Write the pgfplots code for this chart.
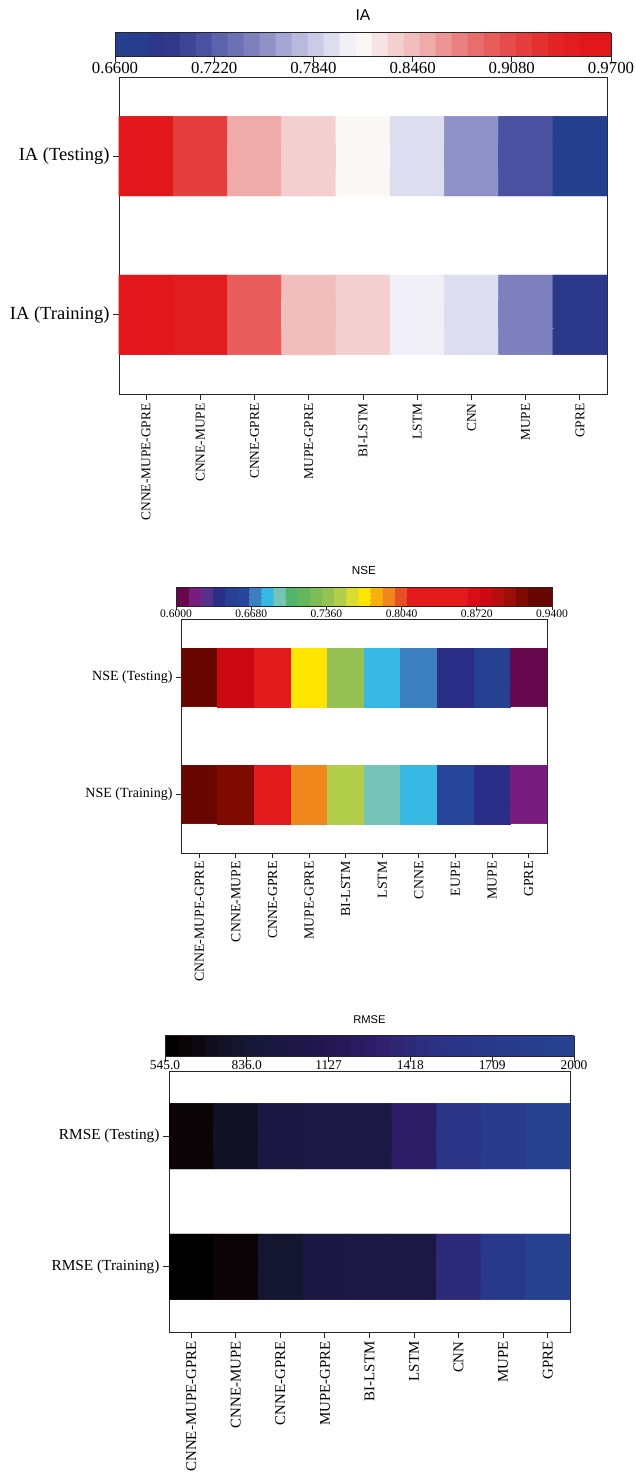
\documentclass[border=0pt]{standalone}
\usepackage{fontspec}
\setmainfont{Liberation Serif}
\setsansfont{Liberation Sans}
\usepackage{pgfplots}
\pgfplotsset{compat=1.18}
\pgfplotsset{
colormap={ia}{rgb255=(36,64,143) rgb255=(39,61,142) rgb255=(44,57,139) rgb255=(50,57,139) rgb255=(61,69,149) rgb255=(74,81,160) rgb255=(92,98,171) rgb255=(108,112,180) rgb255=(126,128,189) rgb255=(144,146,199) rgb255=(165,166,211) rgb255=(184,185,221) rgb255=(203,203,231) rgb255=(221,221,240) rgb255=(240,240,246) rgb255=(250,247,246) rgb255=(246,227,227) rgb255=(244,207,207) rgb255=(242,189,189) rgb255=(239,170,170) rgb255=(237,149,149) rgb255=(235,128,128) rgb255=(233,109,109) rgb255=(232,92,92) rgb255=(230,76,76) rgb255=(229,62,62) rgb255=(227,48,48) rgb255=(227,36,36) rgb255=(226,29,34) rgb255=(226,23,28) rgb255=(226,23,28)},
colormap={nse}{rgb255=(103,7,78) rgb255=(120,28,125) rgb255=(87,48,138) rgb255=(43,46,134) rgb255=(39,64,146) rgb255=(39,69,154) rgb255=(60,127,193) rgb255=(54,184,227) rgb255=(118,195,184) rgb255=(83,180,107) rgb255=(100,183,92) rgb255=(125,188,87) rgb255=(150,194,83) rgb255=(179,206,74) rgb255=(219,220,48) rgb255=(254,229,0) rgb255=(247,177,12) rgb255=(239,135,29) rgb255=(229,81,37) rgb255=(227,26,28) rgb255=(227,26,28) rgb255=(227,26,28) rgb255=(227,26,28) rgb255=(227,26,28) rgb255=(216,14,22) rgb255=(204,9,18) rgb255=(180,14,14) rgb255=(154,16,8) rgb255=(126,10,2) rgb255=(104,6,0) rgb255=(104,6,0)},
colormap={rmse}{rgb255=(0,0,0) rgb255=(10,4,7) rgb255=(13,8,16) rgb255=(16,13,28) rgb255=(18,18,38) rgb255=(20,21,47) rgb255=(22,23,55) rgb255=(24,24,61) rgb255=(26,24,66) rgb255=(28,23,69) rgb255=(30,22,72) rgb255=(33,22,77) rgb255=(36,23,82) rgb255=(39,24,88) rgb255=(42,26,95) rgb255=(45,29,102) rgb255=(47,33,109) rgb255=(47,38,116) rgb255=(46,42,122) rgb255=(45,46,128) rgb255=(44,49,132) rgb255=(43,51,135) rgb255=(42,53,137) rgb255=(41,55,138) rgb255=(40,57,139) rgb255=(40,59,140) rgb255=(39,60,141) rgb255=(39,62,142) rgb255=(38,64,142) rgb255=(37,65,143) rgb255=(37,65,143)},
myaxis/.style={
  anchor=south west, scale only axis,
  ymin=-0.5, ymax=1.5, xmin=-0.5,
  ytick={0,1},
  tick align=outside, xtick pos=bottom, ytick pos=left,
  major tick length=6pt,
  axis line style={line width=0.9pt, black!85},
  tick style={line width=0.9pt, black!85},
  x tick label style={rotate=90, anchor=east},
  colormap access=piecewise constant,
  colorbar horizontal,
},
mycb/.style={
  at={(parent axis.north)}, anchor=south, scale only axis,
  tick align=outside, xtick pos=bottom,
  major tick length=5pt,
  axis line style={line width=0.9pt, black!85},
  tick style={line width=0.9pt, black!85},
  title style={at={(0.5,1)}, anchor=south, yshift=4pt, inner sep=2pt},
},
}
\begin{document}
\begin{tikzpicture}
\useasboundingbox (0,0) rectangle (635pt,1473pt);
% ---------------- IA ----------------
\begin{axis}[myaxis,
  at={(119pt,1079pt)}, width=488pt, height=317pt,
  xmax=8.5, xtick={0,...,8},
  xticklabels={CNNE-MUPE-GPRE,CNNE-MUPE,CNNE-GPRE,MUPE-GPRE,BI-LSTM,LSTM,CNN,MUPE,GPRE},
  yticklabels={IA (Training),IA (Testing)},
  x tick label style={font=\fontsize{13.4}{15}\selectfont},
  y tick label style={font=\fontsize{18.5}{20}\selectfont},
  colormap name=ia, point meta min=0.66, point meta max=0.97,
  colorbar style={mycb, yshift=29pt, width=496pt, height=24pt,
    xtick={0.66,0.722,0.784,0.846,0.908,0.97},
    xticklabels={0.6600,0.7220,0.7840,0.8460,0.9080,0.9700},
    xticklabel style={font=\fontsize{16.8}{18}\selectfont, yshift=3pt},
    title={IA}, title style={font=\sffamily\fontsize{15.7}{17}\selectfont}},
]
% Training row (y = 0): two-row layer and three-row layer (hides the seam)
\addplot[matrix plot*, mesh/cols=9, point meta=explicit] table[meta=c] {
x y c
0 -0.125 0.965
1 -0.125 0.945
2 -0.125 0.895
3 -0.125 0.845
4 -0.125 0.835
5 -0.125 0.805
6 -0.125 0.795
7 -0.125 0.745
8 -0.125 0.685
0 0.125 0.965
1 0.125 0.945
2 0.125 0.895
3 0.125 0.845
4 0.125 0.835
5 0.125 0.805
6 0.125 0.795
7 0.125 0.745
8 0.125 0.685
};
\addplot[matrix plot*, mesh/cols=9, point meta=explicit] table[meta=c] {
x y c
0 -0.16667 0.965
1 -0.16667 0.945
2 -0.16667 0.895
3 -0.16667 0.845
4 -0.16667 0.835
5 -0.16667 0.805
6 -0.16667 0.795
7 -0.16667 0.745
8 -0.16667 0.685
0 0 0.965
1 0 0.945
2 0 0.895
3 0 0.845
4 0 0.835
5 0 0.805
6 0 0.795
7 0 0.745
8 0 0.685
0 0.16667 0.965
1 0.16667 0.945
2 0.16667 0.895
3 0.16667 0.845
4 0.16667 0.835
5 0.16667 0.805
6 0.16667 0.795
7 0.16667 0.745
8 0.16667 0.685
};
% Testing row (y = 1)
\addplot[matrix plot*, mesh/cols=9, point meta=explicit] table[meta=c] {
x y c
0 0.875 0.965
1 0.875 0.915
2 0.875 0.855
3 0.875 0.835
4 0.875 0.815
5 0.875 0.795
6 0.875 0.755
7 0.875 0.715
8 0.875 0.665
0 1.125 0.965
1 1.125 0.915
2 1.125 0.855
3 1.125 0.835
4 1.125 0.815
5 1.125 0.795
6 1.125 0.755
7 1.125 0.715
8 1.125 0.665
};
\addplot[matrix plot*, mesh/cols=9, point meta=explicit] table[meta=c] {
x y c
0 0.83333 0.965
1 0.83333 0.915
2 0.83333 0.855
3 0.83333 0.835
4 0.83333 0.815
5 0.83333 0.795
6 0.83333 0.755
7 0.83333 0.715
8 0.83333 0.665
0 1 0.965
1 1 0.915
2 1 0.855
3 1 0.835
4 1 0.815
5 1 0.795
6 1 0.755
7 1 0.715
8 1 0.665
0 1.16667 0.965
1 1.16667 0.915
2 1.16667 0.855
3 1.16667 0.835
4 1.16667 0.815
5 1.16667 0.795
6 1.16667 0.755
7 1.16667 0.715
8 1.16667 0.665
};
\end{axis}
% ---------------- NSE ----------------
\begin{axis}[myaxis,
  at={(181pt,620pt)}, width=366pt, height=234pt,
  xmax=9.5, xtick={0,...,9},
  xticklabels={CNNE-MUPE-GPRE,CNNE-MUPE,CNNE-GPRE,MUPE-GPRE,BI-LSTM,LSTM,CNNE,EUPE,MUPE,GPRE},
  yticklabels={NSE (Training),NSE (Testing)},
  x tick label style={font=\fontsize{13.8}{15}\selectfont},
  y tick label style={font=\fontsize{14}{16}\selectfont},
  major tick length=5pt,
  colormap name=nse, point meta min=0.6, point meta max=0.94,
  colorbar style={mycb, yshift=21.4pt, width=376pt, height=19pt,
    major tick length=4pt,
    xtick={0.6,0.668,0.736,0.804,0.872,0.94},
    xticklabels={0.6000,0.6680,0.7360,0.8040,0.8720,0.9400},
    xticklabel style={font=\fontsize{11.5}{13}\selectfont, yshift=4pt},
    title={NSE}, title style={font=\sffamily\fontsize{11.7}{13}\selectfont}},
]
\addplot[matrix plot*, mesh/cols=10, point meta=explicit] table[meta=c] {
x y c
0 -0.125 0.934
1 -0.125 0.913
2 -0.125 0.836
3 -0.125 0.792
4 -0.125 0.748
5 -0.125 0.693
6 -0.125 0.682
7 -0.125 0.660
8 -0.125 0.638
9 -0.125 0.617
0 0.125 0.934
1 0.125 0.913
2 0.125 0.836
3 0.125 0.792
4 0.125 0.748
5 0.125 0.693
6 0.125 0.682
7 0.125 0.660
8 0.125 0.638
9 0.125 0.617
};
\addplot[matrix plot*, mesh/cols=10, point meta=explicit] table[meta=c] {
x y c
0 -0.16667 0.934
1 -0.16667 0.913
2 -0.16667 0.836
3 -0.16667 0.792
4 -0.16667 0.748
5 -0.16667 0.693
6 -0.16667 0.682
7 -0.16667 0.660
8 -0.16667 0.638
9 -0.16667 0.617
0 0 0.934
1 0 0.913
2 0 0.836
3 0 0.792
4 0 0.748
5 0 0.693
6 0 0.682
7 0 0.660
8 0 0.638
9 0 0.617
0 0.16667 0.934
1 0.16667 0.913
2 0.16667 0.836
3 0.16667 0.792
4 0.16667 0.748
5 0.16667 0.693
6 0.16667 0.682
7 0.16667 0.660
8 0.16667 0.638
9 0.16667 0.617
};
\addplot[matrix plot*, mesh/cols=10, point meta=explicit] table[meta=c] {
x y c
0 0.875 0.934
1 0.875 0.880
2 0.875 0.847
3 0.875 0.770
4 0.875 0.737
5 0.875 0.682
6 0.875 0.671
7 0.875 0.638
8 0.875 0.649
9 0.875 0.605
0 1.125 0.934
1 1.125 0.880
2 1.125 0.847
3 1.125 0.770
4 1.125 0.737
5 1.125 0.682
6 1.125 0.671
7 1.125 0.638
8 1.125 0.649
9 1.125 0.605
};
\addplot[matrix plot*, mesh/cols=10, point meta=explicit] table[meta=c] {
x y c
0 0.83333 0.934
1 0.83333 0.880
2 0.83333 0.847
3 0.83333 0.770
4 0.83333 0.737
5 0.83333 0.682
6 0.83333 0.671
7 0.83333 0.638
8 0.83333 0.649
9 0.83333 0.605
0 1 0.934
1 1 0.880
2 1 0.847
3 1 0.770
4 1 0.737
5 1 0.682
6 1 0.671
7 1 0.638
8 1 0.649
9 1 0.605
0 1.16667 0.934
1 1.16667 0.880
2 1.16667 0.847
3 1.16667 0.770
4 1.16667 0.737
5 1.16667 0.682
6 1.16667 0.671
7 1.16667 0.638
8 1.16667 0.649
9 1.16667 0.605
};
\end{axis}
% ---------------- RMSE ----------------
\begin{axis}[myaxis,
  at={(169pt,141pt)}, width=401pt, height=261pt,
  xmax=8.5, xtick={0,...,8},
  xticklabels={CNNE-MUPE-GPRE,CNNE-MUPE,CNNE-GPRE,MUPE-GPRE,BI-LSTM,LSTM,CNN,MUPE,GPRE},
  yticklabels={RMSE (Training),RMSE (Testing)},
  x tick label style={font=\fontsize{14.9}{16}\selectfont},
  y tick label style={font=\fontsize{15.3}{17}\selectfont},
  colormap name=rmse, point meta min=545, point meta max=2000,
  colorbar style={mycb, yshift=23pt, width=409pt, height=21pt,
    xtick={545,836,1127,1418,1709,2000},
    xticklabels={545.0,836.0,1127,1418,1709,2000},
    xticklabel style={font=\fontsize{13.4}{15}\selectfont, yshift=4pt},
    title={RMSE}, title style={font=\sffamily\fontsize{11.2}{13}\selectfont}},
]
\addplot[matrix plot*, mesh/cols=9, point meta=explicit] table[meta=c] {
x y c
0 -0.125 568
1 -0.125 615
2 -0.125 803
3 -0.125 944
4 -0.125 991
5 -0.125 995
6 -0.125 1413
7 -0.125 1672
8 -0.125 1906
0 0.125 568
1 0.125 615
2 0.125 803
3 0.125 944
4 0.125 991
5 0.125 995
6 0.125 1413
7 0.125 1672
8 0.125 1906
};
\addplot[matrix plot*, mesh/cols=9, point meta=explicit] table[meta=c] {
x y c
0 -0.16667 568
1 -0.16667 615
2 -0.16667 803
3 -0.16667 944
4 -0.16667 991
5 -0.16667 995
6 -0.16667 1413
7 -0.16667 1672
8 -0.16667 1906
0 0 568
1 0 615
2 0 803
3 0 944
4 0 991
5 0 995
6 0 1413
7 0 1672
8 0 1906
0 0.16667 568
1 0.16667 615
2 0.16667 803
3 0.16667 944
4 0.16667 991
5 0.16667 995
6 0.16667 1413
7 0.16667 1672
8 0.16667 1906
};
\addplot[matrix plot*, mesh/cols=9, point meta=explicit] table[meta=c] {
x y c
0 0.875 615
1 0.875 756
2 0.875 944
3 0.875 991
4 0.875 991
5 0.875 1272
6 0.875 1531
7 0.875 1719
8 0.875 1953
0 1.125 615
1 1.125 756
2 1.125 944
3 1.125 991
4 1.125 991
5 1.125 1272
6 1.125 1531
7 1.125 1719
8 1.125 1953
};
\addplot[matrix plot*, mesh/cols=9, point meta=explicit] table[meta=c] {
x y c
0 0.83333 615
1 0.83333 756
2 0.83333 944
3 0.83333 991
4 0.83333 991
5 0.83333 1272
6 0.83333 1531
7 0.83333 1719
8 0.83333 1953
0 1 615
1 1 756
2 1 944
3 1 991
4 1 991
5 1 1272
6 1 1531
7 1 1719
8 1 1953
0 1.16667 615
1 1.16667 756
2 1.16667 944
3 1.16667 991
4 1.16667 991
5 1.16667 1272
6 1.16667 1531
7 1.16667 1719
8 1.16667 1953
};
\end{axis}
\end{tikzpicture}
\end{document}
